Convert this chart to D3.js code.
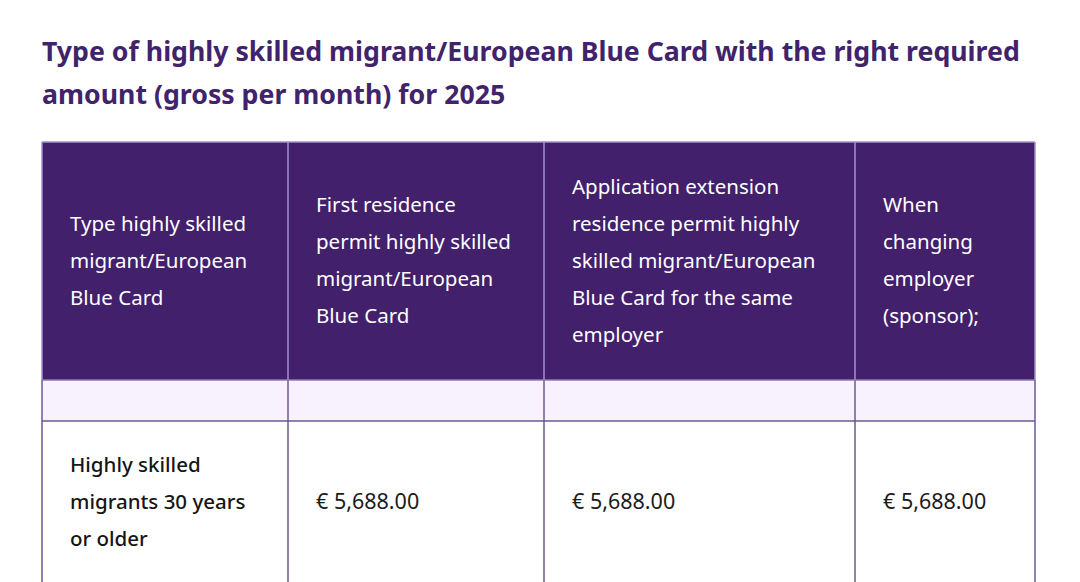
<!DOCTYPE html>
<html>
<head>
<meta charset="utf-8">
<script src="https://cdn.jsdelivr.net/npm/d3@7"></script>
<style>
  body { margin: 0; background: #fff; }
  svg { display: block; font-family: "Noto Sans", sans-serif; }
</style>
</head>
<body>
<svg id="chart" width="1080" height="582"></svg>
<script>
// title lines
const titleLines = [
  "Type of highly skilled migrant/European Blue Card with the right required",
  "amount (gross per month) for 2025"
];

// header cells, already broken into lines as in the source
const headers = [
  ["Type highly skilled", "migrant/European", "Blue Card"],
  ["First residence", "permit highly skilled", "migrant/European", "Blue Card"],
  ["Application extension", "residence permit highly", "skilled migrant/European", "Blue Card for the same", "employer"],
  ["When", "changing", "employer", "(sponsor);"]
];

// data rows
const rowLabels = [["Highly skilled", "migrants 30 years", "or older"]];
const amounts = [[5688, 5688, 5688]];

const colWidths = [246, 256, 311, 180];

const svg = d3.select("#chart");
const W = 1080, H = 582;

const left = 42, headTop = 142, headBottom = 380, bandBottom = 421, rowBottom = 586;
const lineH = 37;

const edges = [left].concat(Array.from(d3.cumsum(colWidths), (d) => left + d));
const x = d3.scaleOrdinal().domain(d3.range(colWidths.length)).range(edges.slice(0, -1));

const fmt = d3.format(",.2f");

// title
svg.append("g")
  .selectAll("text")
  .data(titleLines)
  .join("text")
  .attr("x", left)
  .attr("y", (d, i) => 54 + i * 43)
  .attr("dominant-baseline", "middle")
  .attr("fill", "#41236b")
  .attr("font-size", 26.7)
  .attr("font-weight", 700)
  .text((d) => d);

// header background
svg.append("rect")
  .attr("x", left).attr("y", headTop)
  .attr("width", edges[edges.length - 1] - left)
  .attr("height", headBottom - headTop)
  .attr("fill", "#42206c");

// light band
svg.append("rect")
  .attr("x", left).attr("y", headBottom)
  .attr("width", edges[edges.length - 1] - left)
  .attr("height", bandBottom - headBottom)
  .attr("fill", "#f7f2fd");

// header text
const headMid = (headTop + headBottom) / 2 + 1;
const hg = svg.append("g")
  .selectAll("g")
  .data(headers)
  .join("g")
  .attr("transform", (d, i) => `translate(${x(i) + 28},0)`);

hg.selectAll("text")
  .data((d) => d.map((t, j) => ({ t, j, n: d.length })))
  .join("text")
  .attr("y", (d) => headMid + (d.j - (d.n - 1) / 2) * lineH)
  .attr("dominant-baseline", "middle")
  .attr("fill", "#fff")
  .attr("font-size", 20.5)
  .text((d) => d.t);

// data row
const rowMid = (bandBottom + rowBottom) / 2;
rowLabels.forEach((lab, r) => {
  svg.append("g")
    .selectAll("text")
    .data(lab)
    .join("text")
    .attr("x", x(0) + 28)
    .attr("y", (d, j) => rowMid + (j - (lab.length - 1) / 2) * lineH)
    .attr("dominant-baseline", "middle")
    .attr("fill", "#151515")
    .attr("font-size", 20.5)
    .attr("font-weight", 500)
    .text((d) => d);

  svg.append("g")
    .selectAll("text")
    .data(amounts[r])
    .join("text")
    .attr("x", (d, i) => x(i + 1) + 28)
    .attr("y", rowMid)
    .attr("dominant-baseline", "middle")
    .attr("fill", "#1b1b1b")
    .attr("font-size", 21.5)
    .text((d) => "€ " + fmt(d));
});

// grid lines
const grid = svg.append("g").attr("fill", "none");
// header vertical separators (light)
grid.selectAll("line.hv")
  .data(edges)
  .join("line")
  .attr("class", "hv")
  .attr("x1", (d) => d).attr("x2", (d) => d)
  .attr("y1", headTop).attr("y2", headBottom)
  .attr("stroke", "#a58fcf")
  .attr("stroke-width", 1.5);

// body vertical lines
grid.selectAll("line.bv")
  .data(edges)
  .join("line")
  .attr("class", "bv")
  .attr("x1", (d) => d).attr("x2", (d) => d)
  .attr("y1", headBottom).attr("y2", H)
  .attr("stroke", "#6c5892")
  .attr("stroke-width", 1.5);

// horizontal lines
grid.selectAll("line.hh")
  .data([
    { y: headTop, c: "#a58fcf" },
    { y: headBottom, c: "#8e79b8" },
    { y: bandBottom, c: "#6c5892" }
  ])
  .join("line")
  .attr("class", "hh")
  .attr("x1", left).attr("x2", edges[edges.length - 1])
  .attr("y1", (d) => d.y).attr("y2", (d) => d.y)
  .attr("stroke", (d) => d.c)
  .attr("stroke-width", 1.5);
</script>
</body>
</html>
